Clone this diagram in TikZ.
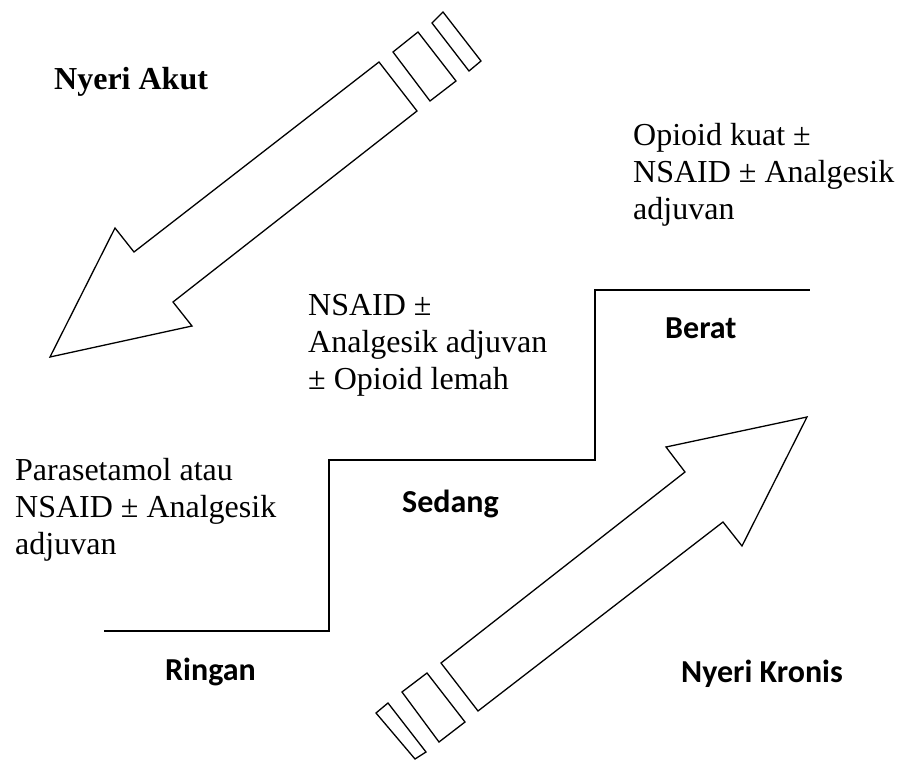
\documentclass[tikz,border=0pt]{standalone}
\usepackage{fontspec}
\setmainfont{Liberation Serif}
\newfontfamily\labelfont{Carlito}
\begin{document}
\begin{tikzpicture}[x=1pt,y=-1pt,
  outline/.style={draw=black, line width=1.3pt, line join=miter},
  stair/.style={draw=black, line width=1.8pt, line join=miter},
  drug/.style={anchor=base west, inner sep=0pt, align=left,
    font=\fontsize{32}{36.8}\selectfont},
  level/.style={anchor=base west, inner sep=0pt,
    font=\labelfont\bfseries\fontsize{32}{36.8}\selectfont},
  kind/.style={anchor=base west, inner sep=0pt,
    font=\bfseries\fontsize{32}{36.8}\selectfont}]
\useasboundingbox (0,0) rectangle (898,760);

% acute pain: block arrow pointing down-left, with two stripes at its tail
\draw[outline] (379,62) -- (417,111) -- (173,302) -- (192,326) -- (50,357)
  -- (115,228) -- (134,252) -- cycle;
\draw[outline] (393,52) -- (418,32) -- (456,81) -- (430,101) -- cycle;
\draw[outline] (432,23) -- (443,12) -- (481,61) -- (469,71) -- cycle;

% chronic pain: block arrow pointing up-right, with two stripes at its tail
\draw[outline] (441,663) -- (685,472) -- (666,447) -- (807,417) -- (742,546)
  -- (723,522) -- (478,711) -- cycle;
\draw[outline] (402,692) -- (427,673) -- (465,722) -- (439,742) -- cycle;
\draw[outline] (376,713) -- (388,703) -- (426,752) -- (415,759) -- cycle;

% the three-step staircase
\coordinate (s0) at (104,631);
\coordinate (s1) at (329,631);
\coordinate (s2) at (329,460);
\coordinate (s3) at (595,460);
\coordinate (s4) at (595,290);
\coordinate (s5) at (810,290);
\draw[stair] (s0) -- (s1) -- (s2) -- (s3) -- (s4) -- (s5);

% labels
\node[kind] (akut) at (54,89) {Nyeri Akut};
\node[level] (kronis) at (681,682) {Nyeri Kronis};
\node[level] (ringan) at (165,680) {Ringan};
\node[level] (sedang) at (402,512) {Sedang};
\node[level] (berat) at (665,338) {Berat};

% medication per step (anchored on the baseline of the last line)
\node[drug] (t1) at (15,554) {Parasetamol atau\\NSAID ± Analgesik\\adjuvan};
\node[drug] (t2) at (308,389) {NSAID ±\\Analgesik adjuvan\\± Opioid lemah};
\node[drug] (t3) at (633,219) {Opioid kuat ±\\NSAID ± Analgesik\\adjuvan};
\end{tikzpicture}
\end{document}
